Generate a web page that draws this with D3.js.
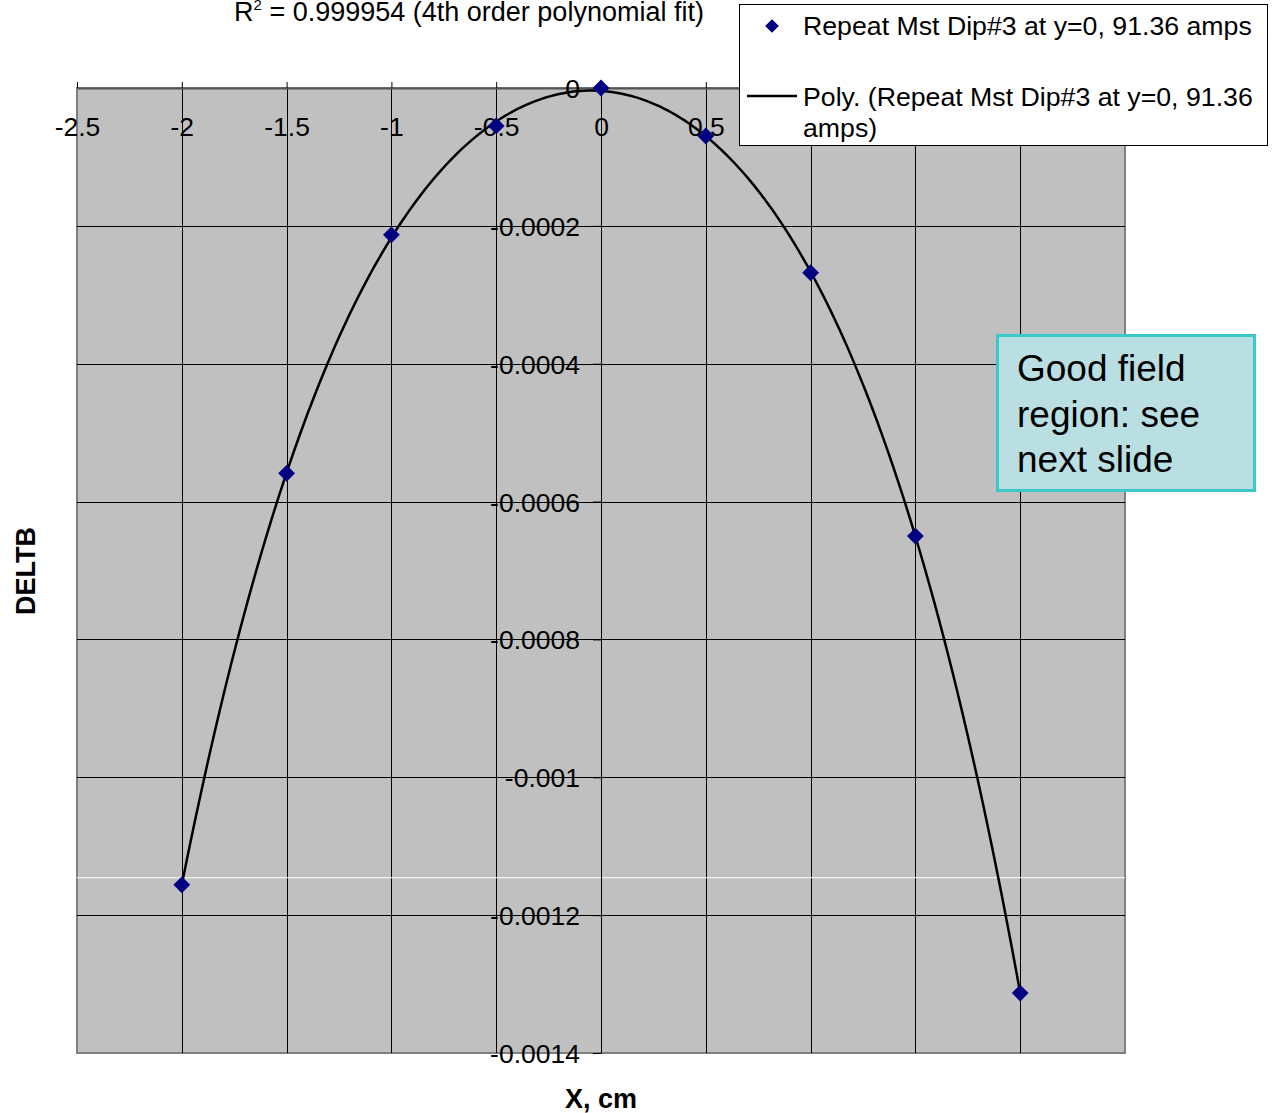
<!DOCTYPE html>
<html>
<head>
<meta charset="utf-8">
<script src="https://cdn.jsdelivr.net/npm/d3@7"></script>
<style>
  body { margin: 0; background: #fff; }
  svg { display: block; font-family: "Liberation Sans", Arial, sans-serif; }
  .grid line { stroke: #000; stroke-width: 1; }
  .axis text { font-size: 26.5px; fill: #000; font-family: "Liberation Sans", Arial, sans-serif; }
</style>
</head>
<body>
<div id="container"></div>
<script>
// measured points (X, cm vs DELTB)
var xValues = [-2, -1.5, -1, -0.5, 0, 0.5, 1, 1.5, 2];
var deltb = [-0.001156, -0.000559, -0.000213, -0.000055, 0, -0.0000696, -0.000268, -0.00065, -0.001313];
var xTicks = [-2.5, -2, -1.5, -1, -0.5, 0, 0.5, 1, 1.5, 2, 2.5];
var yTicks = [0, -0.0002, -0.0004, -0.0006, -0.0008, -0.001, -0.0012, -0.0014];
var yTickLabels = ["0", "-0.0002", "-0.0004", "-0.0006", "-0.0008", "-0.001", "-0.0012", "-0.0014"];
var seriesName = "Repeat Mst Dip#3 at y=0, 91.36 amps";
var trendName = ["Poly. (Repeat Mst Dip#3 at y=0, 91.36", "amps)"];
var noteLines = ["Good field", "region: see", "next slide"];

var width = 1274, height = 1113;
var margin = {top: 88, right: 149, bottom: 60, left: 77};
var w = width - margin.left - margin.right;
var h = height - margin.top - margin.bottom;

var x = d3.scaleLinear().domain([-2.5, 2.5]).range([0, w]);
var y = d3.scaleLinear().domain([-0.0014, 0]).range([h, 0]);

// 4th order least squares fit (same thing the trendline is)
function polyfit(xs, ys, order) {
    var n = order + 1;
    var A = [], b = [];
    for (var i = 0; i < n; i++) {
        A.push([]);
        for (var j = 0; j < n; j++) {
            A[i].push(d3.sum(xs, function(v) { return Math.pow(v, i + j); }));
        }
        b.push(d3.sum(xs, function(v, k) { return Math.pow(v, i) * ys[k]; }));
    }
    for (var c = 0; c < n; c++) {
        var p = c;
        for (var r = c + 1; r < n; r++) if (Math.abs(A[r][c]) > Math.abs(A[p][c])) p = r;
        var t = A[c]; A[c] = A[p]; A[p] = t;
        var tb = b[c]; b[c] = b[p]; b[p] = tb;
        for (var r2 = c + 1; r2 < n; r2++) {
            var f = A[r2][c] / A[c][c];
            for (var k2 = c; k2 < n; k2++) A[r2][k2] -= f * A[c][k2];
            b[r2] -= f * b[c];
        }
    }
    var coef = new Array(n);
    for (var i2 = n - 1; i2 >= 0; i2--) {
        var s = b[i2];
        for (var j2 = i2 + 1; j2 < n; j2++) s -= A[i2][j2] * coef[j2];
        coef[i2] = s / A[i2][i2];
    }
    return coef;
}
var coef = polyfit(xValues, deltb, 4);
function poly(v) { return coef.reduce(function(acc, c, i) { return acc + c * Math.pow(v, i); }, 0); }
var fitX = d3.range(-2, 2.0001, 0.02);

var svg = d3.select("#container").append("svg")
    .attr("width", width).attr("height", height);

var g = svg.append("g").attr("transform", "translate(" + margin.left + "," + margin.top + ")");

g.append("rect")
    .attr("width", w).attr("height", h)
    .attr("fill", "#c0c0c0")
    .attr("stroke", "#808080").attr("stroke-width", 2);

// gridlines
g.append("g").attr("class", "grid")
    .selectAll("line").data(xTicks.slice(1, -1)).enter().append("line")
    .attr("x1", function(d) { return Math.round(x(d)) + 0.5; })
    .attr("x2", function(d) { return Math.round(x(d)) + 0.5; })
    .attr("y1", 0).attr("y2", h);
g.append("g").attr("class", "grid")
    .selectAll("line").data(yTicks.slice(1, -1)).enter().append("line")
    .attr("y1", function(d) { return Math.round(y(d)) + 0.5; })
    .attr("y2", function(d) { return Math.round(y(d)) + 0.5; })
    .attr("x1", 0).attr("x2", w);

// stray white line seen in the picture
g.append("line")
    .attr("x1", 0).attr("x2", w)
    .attr("y1", y(-0.001145) + 0.5).attr("y2", y(-0.001145) + 0.5)
    .attr("stroke", "#fff").attr("stroke-width", 1);

// x axis along y=0 (top), ticks upward
var xAxis = d3.axisTop(x).tickValues(xTicks).tickSize(6).tickSizeOuter(0)
    .tickFormat(function(d) { return String(d); });
var xa = g.append("g").attr("class", "axis").call(xAxis);
xa.select(".domain").attr("stroke", "#555").attr("stroke-width", 2);
xa.selectAll(".tick text").attr("y", 48);

// y axis through x=0
var yAxis = d3.axisLeft(y).tickValues(yTicks).tickSize(8).tickSizeOuter(0)
    .tickFormat(function(d, i) { return yTickLabels[i]; });
var ya = g.append("g").attr("class", "axis")
    .attr("transform", "translate(" + x(0) + ",0)").call(yAxis);
ya.selectAll(".tick text").attr("x", -21).attr("dy", "0.36em");

// trendline
var line = d3.line()
    .x(function(d) { return x(d); })
    .y(function(d) { return y(poly(d)); });
g.append("path").datum(fitX)
    .attr("d", line)
    .attr("fill", "none").attr("stroke", "#000").attr("stroke-width", 2.5);

// points
var diamond = d3.symbol().type(d3.symbolDiamond2).size(180);
g.selectAll(".point").data(xValues).enter().append("path")
    .attr("class", "point")
    .attr("d", diamond)
    .attr("transform", function(d, i) { return "translate(" + x(d) + "," + y(deltb[i]) + ")"; })
    .attr("fill", "#000080");

// axis titles
svg.append("text")
    .attr("x", 601).attr("y", 1108)
    .attr("text-anchor", "middle")
    .attr("font-size", 27).attr("font-weight", "bold")
    .text("X, cm");
svg.append("text")
    .attr("transform", "translate(35,571) rotate(-90)")
    .attr("text-anchor", "middle")
    .attr("font-size", 27).attr("font-weight", "bold")
    .text("DELTB");

// R² title
var title = svg.append("text")
    .attr("x", 469).attr("y", 21)
    .attr("text-anchor", "middle")
    .attr("font-size", 27);
title.append("tspan").text("R");
title.append("tspan").attr("font-size", 15).attr("dy", -11).text("2");
title.append("tspan").attr("dy", 11).text(" = 0.999954 (4th order polynomial fit)");

// legend
var lg = svg.append("g");
lg.append("rect")
    .attr("x", 739.5).attr("y", 4.5).attr("width", 528).attr("height", 141)
    .attr("fill", "#fff").attr("stroke", "#000").attr("stroke-width", 1);
lg.append("path")
    .attr("d", d3.symbol().type(d3.symbolDiamond2).size(120))
    .attr("transform", "translate(772,26)")
    .attr("fill", "#000080");
lg.append("text").attr("x", 803).attr("y", 35).attr("font-size", 26.7).text(seriesName);
lg.append("line")
    .attr("x1", 747).attr("x2", 797).attr("y1", 96).attr("y2", 96)
    .attr("stroke", "#000").attr("stroke-width", 2.5);
lg.selectAll(".tl").data(trendName).enter().append("text")
    .attr("class", "tl")
    .attr("x", 803).attr("y", function(d, i) { return 106 + i * 31; })
    .attr("font-size", 26.7).text(function(d) { return d; });

// note box
var nb = svg.append("g");
nb.append("rect")
    .attr("x", 997.5).attr("y", 335.5).attr("width", 257).attr("height", 155)
    .attr("fill", "#b9dfe3").attr("stroke", "#3cc8c8").attr("stroke-width", 3);
nb.selectAll("text").data(noteLines).enter().append("text")
    .attr("x", 1017).attr("y", function(d, i) { return 381 + i * 45.5; })
    .attr("font-size", 37).text(function(d) { return d; });
</script>
</body>
</html>
